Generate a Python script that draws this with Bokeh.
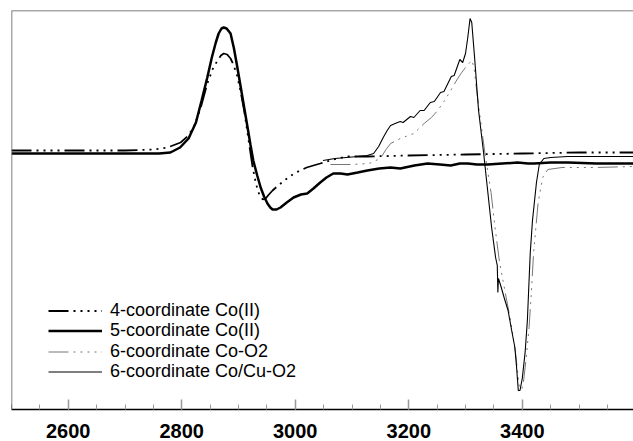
from bokeh.plotting import figure
from bokeh.models import Range1d, SingleIntervalTicker, Legend, LegendItem, Span
from bokeh.embed import file_html
from bokeh.resources import INLINE

# 4-coordinate Co(II)
field_4co = [2500, 2600, 2700, 2750, 2775, 2798, 2810, 2821, 2833, 2845, 2855, 2863, 2869, 2874, 2880,
             2886, 2891, 2897, 2903, 2910, 2916, 2921, 2925, 2930, 2934, 2938, 2943, 2948, 2952, 2960,
             2970, 2983, 2998, 3020, 3044, 3067, 3092, 3127, 3200, 3300, 3400, 3500, 3596]
int_4co = [2, 2, 2, 3, 5, 10, 16, 25, 44, 69, 84, 92, 97, 99, 98,
           94, 88, 78, 63, 42, 19, 0, -15, -29, -38, -44, -47, -46, -43, -38,
           -33, -27, -21, -15, -11, -7, -4, -4, -3, -2, -1, 0, 0]

# 5-coordinate Co(II)
field_5co = [2500, 2600, 2700, 2760, 2780, 2797, 2812, 2825, 2835, 2845, 2853, 2860, 2865, 2870, 2874,
             2879, 2886, 2892, 2898, 2907, 2916, 2921, 2926, 2933, 2939, 2945, 2951, 2956, 2960, 2967,
             2974, 2985, 2997, 3010, 3021, 3032, 3044, 3055, 3067, 3080, 3092, 3110, 3127, 3148, 3168,
             3185, 3210, 3233, 3255, 3274, 3290, 3304, 3320, 3339, 3365, 3392, 3410, 3421, 3450, 3481,
             3530, 3596]
int_5co = [-1, -1, -1, -1, 0, 5, 14, 30, 52, 75, 95, 110, 119, 124, 125,
           124, 119, 104, 85, 55, 25, 8, -8, -23, -35, -44, -51, -55, -57, -57,
           -55, -50, -45, -42, -41, -36, -30, -25, -21, -21, -22, -20, -18, -16, -15,
           -16, -13, -11, -12, -13, -11, -11, -12, -12, -11, -10, -11, -11, -10, -10,
           -11, -11]

# 6-coordinate Co-O2
field_6o2 = [3062, 3100, 3130, 3150, 3160, 3168, 3185, 3209, 3227, 3240, 3251, 3262, 3274, 3283, 3292,
             3300, 3306, 3311, 3315, 3320, 3327, 3334, 3345, 3352, 3360, 3370, 3380, 3388, 3395, 3399,
             3402, 3407, 3412, 3416, 3420, 3428, 3436, 3445, 3470, 3530, 3596]
int_6o2 = [-12, -12, -11, -6, 3, 9, 14, 19, 29, 35, 42, 51, 62, 71, 79,
           85, 89, 92, 85, 60, 30, 0, -40, -75, -110, -140, -170, -200, -235, -237,
           -230, -205, -175, -140, -100, -50, -25, -17, -15, -15, -14]

# 6-coordinate Co/Cu-O2
field_6cu = [3049, 3070, 3090, 3110, 3127, 3138, 3147, 3155, 3162, 3168, 3176, 3185, 3190, 3203, 3209,
             3220, 3227, 3238, 3245, 3256, 3262, 3275, 3280, 3290, 3295, 3300, 3304, 3308, 3311, 3316,
             3323, 3332, 3339, 3346, 3353, 3356, 3357, 3358, 3362, 3368, 3375, 3382, 3387, 3390, 3393,
             3396, 3400, 3405, 3409, 3414, 3418, 3425, 3430, 3438, 3450, 3480, 3530, 3596]
int_6cu = [-8, -6, -5, -4, -3, -1, 6, 15, 22, 27, 29, 31, 30, 36, 35,
           42, 42, 50, 51, 60, 61, 76, 77, 93, 90, 99, 115, 134, 130, 95,
           42, -1, -38, -75, -105, -113, -140, -126, -133, -145, -158, -180, -195, -215, -238,
           -238, -226, -200, -168, -101, -68, -30, -12, -6, -5, -4, -4, -4]

labels = ["4-coordinate Co(II)", "5-coordinate Co(II)", "6-coordinate Co-O2", "6-coordinate Co/Cu-O2"]

p = figure(width=633, height=441, output_backend="svg", toolbar_location=None,
           x_range=Range1d(2500, 3596), y_range=Range1d(-257, 142),
           y_axis_location=None, min_border_left=11, min_border_right=0,
           min_border_top=10, min_border_bottom=32)
p.outline_line_color = None
p.grid.visible = False
p.background_fill_color = "white"
p.border_fill_color = "white"

xa = p.xaxis[0]
xa.ticker = SingleIntervalTicker(interval=200, num_minor_ticks=4)
xa.axis_line_color = "black"
xa.axis_line_width = 1.5
xa.major_tick_in = 10
xa.major_tick_out = 0
xa.minor_tick_in = 5
xa.minor_tick_out = 0
xa.major_tick_line_color = "#999999"
xa.minor_tick_line_color = "#999999"
xa.major_tick_line_width = 1.5
xa.major_label_standoff = 14
xa.major_label_text_font = "Liberation Sans"
xa.major_label_text_font_size = "20px"
xa.major_label_text_font_style = "bold"
xa.major_label_text_color = "black"

p.add_layout(Span(location=2500, dimension="height", line_color="#555555", line_width=1.5))
p.add_layout(Span(location=142, dimension="width", line_color="#555555", line_width=1.5))

r_a = p.line(field_4co, int_4co, line_color="black", line_width=1.8, line_dash="20 5 2 5 2 5 2 5 2 5")
r_b = p.line(field_5co, int_5co, line_color="black", line_width=2.5)
r_c = p.line(field_6o2, int_6o2, line_color="#777777", line_width=1.0, line_dash="20 5 2 5 2 5 2 5 2 5")
r_d = p.line(field_6cu, int_6cu, line_color="black", line_width=1.1)

renderers = [r_a, r_b, r_c, r_d]
offsets = [88, 68, 47, 27]
for lab, r, oy in zip(labels, renderers, offsets):
    lg = Legend(items=[LegendItem(label=lab, renderers=[r])],
                location=(37, oy), orientation="vertical",
                glyph_width=54, glyph_height=17, label_height=17, label_standoff=8,
                spacing=0, padding=0, margin=0,
                border_line_color=None, background_fill_alpha=0,
                label_text_font="Liberation Sans", label_text_font_size="18px",
                label_text_color="black")
    p.add_layout(lg, "center")

open("out.html", "w").write(file_html(p, INLINE))
